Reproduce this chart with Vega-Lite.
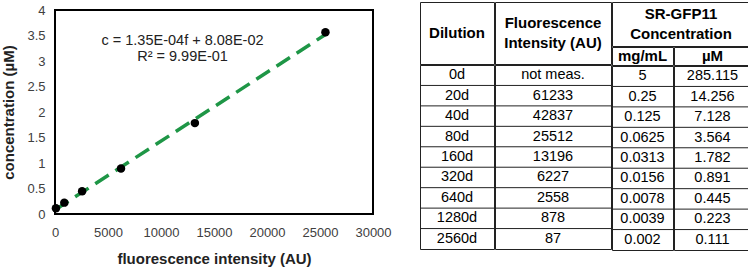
{
  "$schema": "https://vega.github.io/schema/vega-lite/v6.json",
  "padding": {"left": 0, "top": 1, "right": 0, "bottom": 0},
  "config": {"font": "Liberation Sans", "view": {"stroke": null}},
  "datasets": {
    "table": [
      {"dilution": "0d", "fluor": null, "mg": 5, "uM": 285.115},
      {"dilution": "20d", "fluor": 61233, "mg": 0.25, "uM": 14.256},
      {"dilution": "40d", "fluor": 42837, "mg": 0.125, "uM": 7.128},
      {"dilution": "80d", "fluor": 25512, "mg": 0.0625, "uM": 3.564},
      {"dilution": "160d", "fluor": 13196, "mg": 0.0313, "uM": 1.782},
      {"dilution": "320d", "fluor": 6227, "mg": 0.0156, "uM": 0.891},
      {"dilution": "640d", "fluor": 2558, "mg": 0.0078, "uM": 0.445},
      {"dilution": "1280d", "fluor": 878, "mg": 0.0039, "uM": 0.223},
      {"dilution": "2560d", "fluor": 87, "mg": 0.002, "uM": 0.111}
    ],
    "fitLabel": [
      {"fluor": 12030, "uM": 3.40, "label": "c = 1.35E-04f + 8.08E-02"},
      {"fluor": 12030, "uM": 3.07, "label": "R² = 9.99E-01"}
    ]
  },
  "spacing": 26,
  "hconcat": [
    {
      "spacing": 0,
      "vconcat": [
        {"width": 318, "height": 1, "data": {"values": []}, "mark": "point"},
        {
          "width": 318,
          "height": 204,
          "view": {"stroke": "black", "strokeWidth": 2},
          "data": {"name": "table"},
          "encoding": {
            "x": {"field": "fluor", "type": "quantitative", "scale": {"domain": [0, 30000], "nice": false},
              "axis": {"values": [0, 5000, 10000, 15000, 20000, 25000, 30000], "format": "d", "title": "fluorescence intensity (AU)", "grid": false, "ticks": false, "domain": false, "labelFlush": false, "labelFontSize": 13, "labelColor": "#404040", "labelPadding": 12, "titleFontSize": 15, "titleFontWeight": "bold", "titleColor": "#222222", "titlePadding": 12}},
            "y": {"field": "uM", "type": "quantitative", "scale": {"domain": [0, 4], "nice": false},
              "axis": {"values": [0, 0.5, 1, 1.5, 2, 2.5, 3, 3.5, 4], "format": "~g", "title": "concentration (µM)", "grid": false, "ticks": false, "domain": false, "labelFlush": false, "labelFontSize": 13, "labelColor": "#404040", "labelPadding": 10, "titleFontSize": 15, "titleFontWeight": "bold", "titleColor": "#222222", "titlePadding": 10}}
          },
          "layer": [
            {
              "transform": [{"filter": "datum.fluor != null && datum.fluor <= 30000"}, {"regression": "uM", "on": "fluor", "extent": [0, 25512]}],
              "mark": {"type": "line", "color": "#1e9646", "strokeWidth": 3.5, "strokeDash": [16, 8]}
            },
            {
              "transform": [{"filter": "datum.fluor != null && datum.fluor <= 30000"}],
              "mark": {"type": "circle", "size": 72, "color": "black", "opacity": 1}
            },
            {
              "data": {"name": "fitLabel"},
              "mark": {"type": "text", "fontSize": 14.5, "color": "#222222"},
              "encoding": {"text": {"field": "label", "type": "nominal"}}
            }
          ]
        }
      ]
    },
    {
      "spacing": -1,
      "hconcat": [
        {
          "spacing": -1,
          "vconcat": [
            {"width": 74, "height": 62, "view": {"stroke": "#222222", "strokeWidth": 1}, "data": {"values": [{"h": "Dilution"}]},
             "mark": {"type": "text", "fontWeight": "bold", "fontSize": 15, "color": "black"},
             "encoding": {"x": {"field": "h", "type": "nominal", "axis": null}, "text": {"field": "h", "type": "nominal"}}},
            {"width": 74, "height": 184, "view": {"stroke": "#222222", "strokeWidth": 1}, "data": {"name": "table"},
             "transform": [{"fold": ["dilution"], "as": ["column", "value"]}],
             "layer": [
               {"mark": {"type": "rule", "color": "#222222", "strokeWidth": 1},
                "encoding": {"y": {"field": "dilution", "type": "nominal", "sort": null, "axis": null, "bandPosition": 0, "scale": {"type": "band", "paddingInner": 0, "paddingOuter": 0}}}},
               {"mark": {"type": "text", "fontSize": 14.5, "color": "black"},
                "encoding": {"x": {"field": "column", "type": "nominal", "axis": null},
                  "y": {"field": "dilution", "type": "nominal", "sort": null, "axis": null, "bandPosition": 0.5, "scale": {"type": "band", "paddingInner": 0, "paddingOuter": 0}},
                  "text": {"field": "value", "type": "nominal"}}}
             ]}
          ]
        },
        {
          "spacing": -1,
          "vconcat": [
            {"width": 116, "height": 62, "view": {"stroke": "#222222", "strokeWidth": 1},
             "data": {"values": [{"col": "fluor", "line": 1, "h": "Fluorescence"}, {"col": "fluor", "line": 2, "h": "Intensity (AU)"}]},
             "mark": {"type": "text", "fontWeight": "bold", "fontSize": 15, "color": "black"},
             "encoding": {"x": {"field": "col", "type": "nominal", "axis": null},
               "y": {"field": "line", "type": "ordinal", "axis": null, "scale": {"type": "point", "padding": 1.05}},
               "text": {"field": "h", "type": "nominal"}}},
            {"width": 116, "height": 184, "view": {"stroke": "#222222", "strokeWidth": 1}, "data": {"name": "table"},
             "transform": [{"fold": ["fluor"], "as": ["column", "value"]}],
             "layer": [
               {"mark": {"type": "rule", "color": "#222222", "strokeWidth": 1},
                "encoding": {"y": {"field": "dilution", "type": "nominal", "sort": null, "axis": null, "bandPosition": 0, "scale": {"type": "band", "paddingInner": 0, "paddingOuter": 0}}}},
               {"mark": {"type": "text", "fontSize": 14.5, "color": "black"},
                "encoding": {"x": {"field": "column", "type": "nominal", "axis": null},
                  "y": {"field": "dilution", "type": "nominal", "sort": null, "axis": null, "bandPosition": 0.5, "scale": {"type": "band", "paddingInner": 0, "paddingOuter": 0}},
                  "text": {"condition": {"test": "datum.value == null", "value": "not meas."}, "field": "value", "type": "nominal"}}}
             ]}
          ]
        },
        {
          "spacing": -1,
          "vconcat": [
            {"width": 138, "height": 44, "view": {"stroke": "#222222", "strokeWidth": 1},
             "data": {"values": [{"col": "conc", "line": 1, "h": "SR-GFP11"}, {"col": "conc", "line": 2, "h": "Concentration"}]},
             "mark": {"type": "text", "fontWeight": "bold", "fontSize": 15, "color": "black"},
             "encoding": {"x": {"field": "col", "type": "nominal", "axis": null},
               "y": {"field": "line", "type": "ordinal", "axis": null, "scale": {"type": "point", "padding": 0.6}},
               "text": {"field": "h", "type": "nominal"}}},
            {
              "spacing": -1,
              "hconcat": [
                {
                  "spacing": -1,
                  "vconcat": [
                    {"width": 61, "height": 18, "view": {"stroke": "#222222", "strokeWidth": 1}, "data": {"values": [{"h": "mg/mL"}]},
                     "mark": {"type": "text", "fontWeight": "bold", "fontSize": 15, "color": "black"},
                     "encoding": {"x": {"field": "h", "type": "nominal", "axis": null}, "text": {"field": "h", "type": "nominal"}}},
                    {"width": 61, "height": 184, "view": {"stroke": "#222222", "strokeWidth": 1}, "data": {"name": "table"},
                     "transform": [{"fold": ["mg"], "as": ["column", "value"]}],
                     "layer": [
                       {"mark": {"type": "rule", "color": "#222222", "strokeWidth": 1},
                        "encoding": {"y": {"field": "dilution", "type": "nominal", "sort": null, "axis": null, "bandPosition": 0, "scale": {"type": "band", "paddingInner": 0, "paddingOuter": 0}}}},
                       {"mark": {"type": "text", "fontSize": 14.5, "color": "black"},
                        "encoding": {"x": {"field": "column", "type": "nominal", "axis": null},
                          "y": {"field": "dilution", "type": "nominal", "sort": null, "axis": null, "bandPosition": 0.5, "scale": {"type": "band", "paddingInner": 0, "paddingOuter": 0}},
                          "text": {"field": "value", "type": "nominal"}}}
                     ]}
                  ]
                },
                {
                  "spacing": -1,
                  "vconcat": [
                    {"width": 77, "height": 18, "view": {"stroke": "#222222", "strokeWidth": 1}, "data": {"values": [{"h": "µM"}]},
                     "mark": {"type": "text", "fontWeight": "bold", "fontSize": 15, "color": "black"},
                     "encoding": {"x": {"field": "h", "type": "nominal", "axis": null}, "text": {"field": "h", "type": "nominal"}}},
                    {"width": 77, "height": 184, "view": {"stroke": "#222222", "strokeWidth": 1}, "data": {"name": "table"},
                     "transform": [{"fold": ["uM"], "as": ["column", "value"]}],
                     "layer": [
                       {"mark": {"type": "rule", "color": "#222222", "strokeWidth": 1},
                        "encoding": {"y": {"field": "dilution", "type": "nominal", "sort": null, "axis": null, "bandPosition": 0, "scale": {"type": "band", "paddingInner": 0, "paddingOuter": 0}}}},
                       {"mark": {"type": "text", "fontSize": 14.5, "color": "black"},
                        "encoding": {"x": {"field": "column", "type": "nominal", "axis": null},
                          "y": {"field": "dilution", "type": "nominal", "sort": null, "axis": null, "bandPosition": 0.5, "scale": {"type": "band", "paddingInner": 0, "paddingOuter": 0}},
                          "text": {"field": "value", "type": "nominal"}}}
                     ]}
                  ]
                }
              ]
            }
          ]
        }
      ]
    }
  ]
}
